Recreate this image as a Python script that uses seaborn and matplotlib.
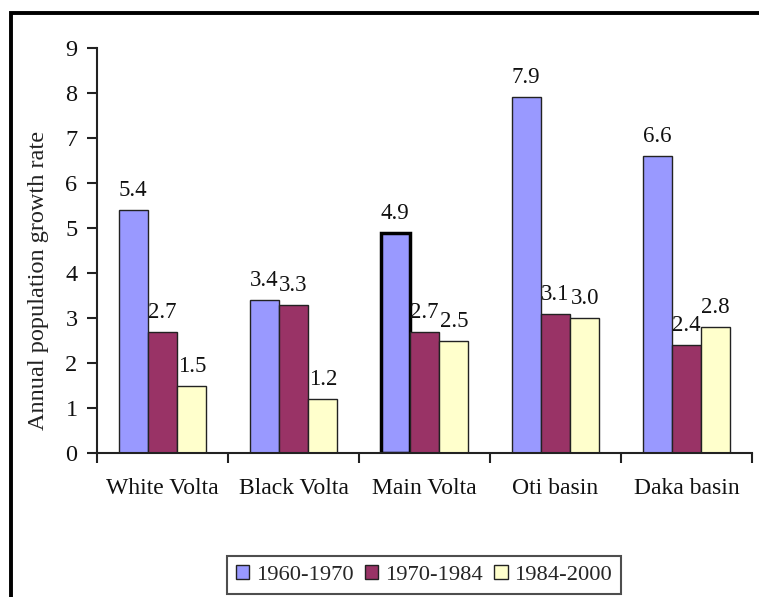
import matplotlib
matplotlib.use("Agg")
import matplotlib.pyplot as plt
import seaborn as sns
import pandas as pd
from matplotlib.lines import Line2D
from matplotlib.patches import Patch

basins = ["White Volta", "Black Volta", "Main Volta", "Oti basin", "Daka basin"]
periods = ["1960-1970", "1970-1984", "1984-2000"]
rate_1960_1970 = [5.4, 3.4, 4.9, 7.9, 6.6]
rate_1970_1984 = [2.7, 3.3, 2.7, 3.1, 2.4]
rate_1984_2000 = [1.5, 1.2, 2.5, 3.0, 2.8]
colors = ["#9999FF", "#993366", "#FFFFCC"]

rows = []
for p, vals in zip(periods, [rate_1960_1970, rate_1970_1984, rate_1984_2000]):
    for b, v in zip(basins, vals):
        rows.append({"basin": b, "period": p, "rate": v})
df = pd.DataFrame(rows)

sns.set_theme(style="ticks")
plt.rcParams["font.family"] = ["Liberation Serif", "DejaVu Serif"]

fig = plt.figure(figsize=(7.59, 5.97), dpi=100)
ax = fig.add_axes([0.1278, 0.2412, 0.8630, 0.6784])

sns.barplot(data=df, x="basin", y="rate", hue="period", order=basins,
            hue_order=periods, palette=colors, width=0.67, gap=0,
            edgecolor="#222222", linewidth=1.0, saturation=1, ax=ax,
            legend=False, errorbar=None)

# value labels and the highlighted Main Volta bar
for container in ax.containers:
    for bar in container:
        h = bar.get_height()
        ax.text(bar.get_x() + bar.get_width() / 2, h + 0.2, f"{h:.1f}",
                ha="center", va="bottom", fontsize=16.5, color="#111111")
main_bar = ax.containers[0][basins.index("Main Volta")]
main_bar.set_linewidth(2.5)
main_bar.set_edgecolor("black")

ax.set_xlim(-0.5, len(basins) - 0.5)
ax.set_ylim(0, 9)
ax.set_yticks(range(0, 10))
ax.set_xticks([i - 0.5 for i in range(len(basins) + 1)], minor=True)
ax.tick_params(axis="x", which="major", length=0, pad=18, labelsize=17)
ax.tick_params(axis="x", which="minor", length=7, width=1.5, direction="out", color="#222222")
ax.tick_params(axis="y", length=7, width=1.5, direction="out", pad=7, labelsize=17.5, color="#222222")
for lbl in ax.get_xticklabels() + ax.get_yticklabels():
    lbl.set_color("#111111")
ax.set_xlabel("")
ax.set_ylabel("Annual population growth rate", fontsize=17.5, color="#222222")
ax.yaxis.set_label_coords(-0.073, 0.425)
for side in ["top", "right"]:
    ax.spines[side].set_visible(False)
for side in ["left", "bottom"]:
    ax.spines[side].set_linewidth(1.5)
    ax.spines[side].set_color("#222222")

handles = [Patch(facecolor=c, edgecolor="#222222", linewidth=1.0) for c in colors]
leg = fig.legend(handles, periods, loc="center", bbox_to_anchor=(424 / 759, 1 - 575 / 597),
                 ncol=3, frameon=True, fontsize=16.2, handlelength=0.6, handleheight=0.6,
                 handletextpad=0.3, columnspacing=0.5, borderpad=0.4, fancybox=False)
leg.get_frame().set_edgecolor("#222222")
leg.get_frame().set_linewidth(1.5)

# outer frame around the chart
fig.add_artist(Line2D([11 / 759, 11 / 759, 1.0], [0.0, 1 - 13 / 597, 1 - 13 / 597],
                      transform=fig.transFigure, color="black", linewidth=2.8,
                      solid_capstyle="butt", solid_joinstyle="miter"))

fig.savefig("out.png", dpi=100)
